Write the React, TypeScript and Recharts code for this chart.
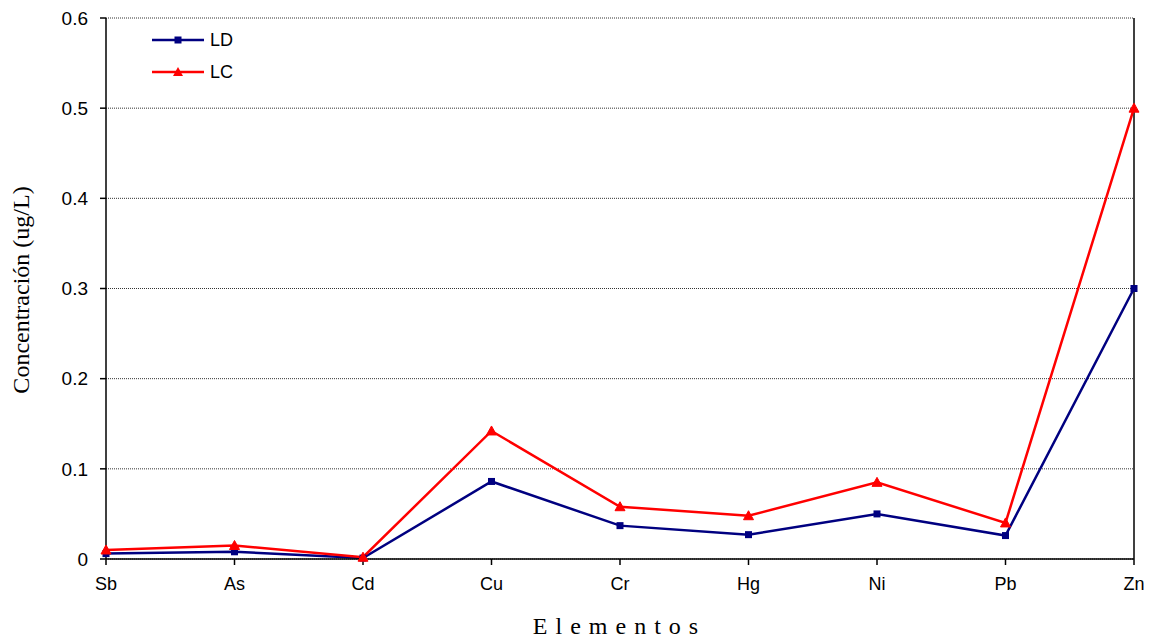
import React from 'react';
import {
    LineChart,
    Line,
    XAxis,
    YAxis,
    CartesianGrid,
    Legend,
    ReferenceLine,
    Label
} from 'recharts';

// Elementos analizados y límites de detección / cuantificación (ug/L)
const elementos = ['Sb', 'As', 'Cd', 'Cu', 'Cr', 'Hg', 'Ni', 'Pb', 'Zn'];
const limiteDeteccion = [0.006, 0.008, 0.001, 0.086, 0.037, 0.027, 0.05, 0.026, 0.3];
const limiteCuantificacion = [0.01, 0.015, 0.002, 0.142, 0.058, 0.048, 0.085, 0.04, 0.5];
const yTicks = [0, 0.1, 0.2, 0.3, 0.4, 0.5, 0.6];

const data = elementos.map((el, i) => ({
    elemento: el,
    LD: limiteDeteccion[i],
    LC: limiteCuantificacion[i]
}));

const SANS = '"Liberation Sans", Arial, sans-serif';
const SERIF = '"Liberation Serif", "Times New Roman", serif';

const TriangleDot = (props: any) => {
    const { cx, cy } = props;
    if (cx == null || cy == null) return null;
    const s = 5;
    return (
        <path
            d={`M${cx},${cy - s} L${cx + s},${cy + s * 0.8} L${cx - s},${cy + s * 0.8} Z`}
            fill="#ff0000"
            stroke="#ff0000"
        />
    );
};

const SquareDot = (props: any) => {
    const { cx, cy } = props;
    if (cx == null || cy == null) return null;
    return <rect x={cx - 3.5} y={cy - 3.5} width={7} height={7} fill="#000080" />;
};

const LegendBox = () => {
    const rows = [
        { name: 'LD', color: '#000080', shape: 'square' },
        { name: 'LC', color: '#ff0000', shape: 'triangle' }
    ];
    return (
        <div style={{ fontFamily: SANS, fontSize: 18, color: '#000' }}>
            {rows.map((r) => (
                <div key={r.name} style={{ display: 'flex', alignItems: 'center', height: 32 }}>
                    <svg width={56} height={14} style={{ marginRight: 2 }}>
                        <line x1={0} y1={7} x2={52} y2={7} stroke={r.color} strokeWidth={2.5} />
                        {r.shape === 'square' ? (
                            <rect x={22.5} y={3.5} width={7} height={7} fill={r.color} />
                        ) : (
                            <path d="M26,2 L31,11 L21,11 Z" fill={r.color} />
                        )}
                    </svg>
                    <span>{r.name}</span>
                </div>
            ))}
        </div>
    );
};

export default function App() {
    return (
        <div style={{ position: 'absolute', left: 0, top: 0, width: 1149, height: 638, background: '#fff' }}>
            <LineChart
                width={1149}
                height={638}
                data={data}
                margin={{ top: 18, right: 15, left: 0, bottom: 49 }}
            >
                <CartesianGrid
                    vertical={false}
                    stroke="#333"
                    strokeDasharray="1 1"
                />
                <XAxis
                    dataKey="elemento"
                    height={30}
                    stroke="#000"
                    strokeWidth={1.5}
                    tickSize={6}
                    tickMargin={12}
                    tick={{ fill: '#000', fontSize: 18, fontFamily: SANS }}
                    interval={0}
                >
                    <Label
                        content={() => (
                            <text
                                x={616}
                                y={634}
                                textAnchor="middle"
                                fontFamily={SERIF}
                                fontSize={24}
                                letterSpacing={1}
                                fill="#000"
                            >
                                E l e m e n t o s
                            </text>
                        )}
                    />
                </XAxis>
                <YAxis
                    width={106}
                    domain={[0, 0.6]}
                    ticks={yTicks}
                    stroke="#000"
                    strokeWidth={1.5}
                    tickSize={6}
                    tickMargin={12}
                    tick={{ fill: '#000', fontSize: 19, fontFamily: SANS }}
                >
                    <Label
                        content={() => (
                            <text
                                x={29}
                                y={290}
                                transform="rotate(-90 29 290)"
                                textAnchor="middle"
                                fontFamily={SERIF}
                                fontSize={24}
                                fill="#000"
                            >
                                Concentración (ug/L)
                            </text>
                        )}
                    />
                </YAxis>
                <ReferenceLine x="Zn" stroke="#000" strokeWidth={1.5} />
                {/* horizontal + middle + center keeps the legend from reserving plot space */}
                <Legend
                    layout="horizontal"
                    align="center"
                    verticalAlign="middle"
                    content={() => <LegendBox />}
                    wrapperStyle={{ left: 152, top: 24, width: 120 }}
                />
                <Line
                    type="linear"
                    dataKey="LD"
                    name="LD"
                    stroke="#000080"
                    strokeWidth={2.5}
                    dot={<SquareDot />}
                    activeDot={false}
                    isAnimationActive={false}
                />
                <Line
                    type="linear"
                    dataKey="LC"
                    name="LC"
                    stroke="#ff0000"
                    strokeWidth={2.5}
                    dot={<TriangleDot />}
                    activeDot={false}
                    isAnimationActive={false}
                />
            </LineChart>
        </div>
    );
}
